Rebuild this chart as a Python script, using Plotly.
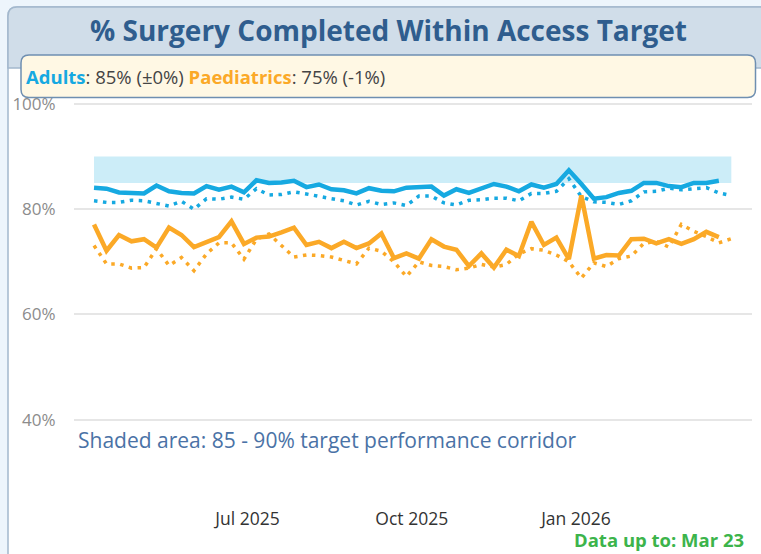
import plotly.graph_objects as go
import pandas as pd

W, H = 761, 554

# ---------------- data ----------------
week_dates = pd.date_range("2025-04-06", periods=52, freq="7D")

adults = [84.1, 83.9, 83.2, 83.0, 83.0, 84.5, 83.4, 83.1, 83.0, 84.4,
          83.7, 84.3, 83.2, 85.5, 85.0, 85.1, 85.4, 84.2, 84.7, 83.8,
          83.6, 83.0, 84.0, 83.5, 83.4, 84.1, 84.3, 84.3, 82.6, 83.8,
          83.1, 84.0, 84.8, 84.3, 83.4, 84.7, 84.1, 84.8, 87.4, 84.8,
          82.0, 82.3, 83.1, 83.5, 85.0, 85.0, 84.4, 84.2, 85.0, 85.0, 85.4]

paeds = [77.1, 72.1, 75.1, 73.9, 74.3, 72.7, 76.5, 75.1, 72.8, 73.8,
         74.7, 77.7, 73.4, 74.6, 74.8, 75.6, 76.5, 73.2, 73.8, 72.6,
         73.8, 72.6, 73.5, 75.4, 70.7, 71.6, 70.6, 74.3, 72.9, 72.3,
         69.2, 71.6, 68.9, 72.3, 71.1, 77.6, 73.2, 74.6, 70.5, 82.6,
         70.6, 71.3, 71.2, 74.3, 74.4, 73.5, 74.3, 73.4, 74.3, 75.7, 74.7]

adults_prev = [81.6, 81.3, 81.3, 81.7, 81.6, 81.1, 80.6, 81.5, 80.0, 82.0,
               81.9, 82.3, 81.9, 83.9, 82.7, 82.8, 83.3, 82.9, 82.4, 82.0,
               81.6, 80.8, 81.5, 80.9, 81.2, 80.7, 82.5, 82.5, 81.2, 80.8,
               81.7, 81.8, 82.1, 82.1, 81.6, 83.0, 83.0, 83.4, 85.8, 82.4,
               81.4, 81.3, 80.9, 81.6, 83.3, 83.4, 84.0, 83.7, 83.9, 84.1, 83.1, 82.6]

paeds_prev = [73.1, 69.6, 69.6, 68.8, 68.9, 72.5, 69.3, 70.8, 68.3, 71.5,
              73.6, 73.6, 70.5, 74.3, 75.3, 73.0, 70.9, 71.3, 71.2, 70.9,
              70.2, 69.6, 72.6, 72.0, 70.0, 67.2, 70.0, 69.3, 69.1, 68.5,
              68.8, 69.5, 69.0, 69.5, 71.5, 72.5, 72.2, 71.3, 70.0, 66.9,
              69.8, 69.1, 70.6, 71.1, 73.5, 73.9, 72.8, 77.1, 75.8, 74.8, 73.6, 74.4]

TARGET_LOW, TARGET_HIGH = 85, 90
y_tick_vals = [40, 60, 80, 100]
y_tick_text = ["40%", "60%", "80%", "100%"]
x_tick_vals = ["2025-07-01", "2025-10-01", "2026-01-01"]
x_tick_text = ["Jul 2025", "Oct 2025", "Jan 2026"]
title_text = "% Surgery Completed Within Access Target"
note_text = "Shaded area: 85 - 90% target performance corridor"
data_up_to = "Data up to: Mar 23"

BLUE = "#16a9e1"
ORANGE = "#fba927"

cur_dates = week_dates[:len(adults)]
prev_dates = week_dates[:len(adults_prev)]


def fmt_change(cur, prev):
    d = round(cur) - round(prev)
    if d == 0:
        return "±0%"
    return f"{d:+d}%"


def fx(p):
    return p / W


def fy(p):
    return 1 - p / H


def rounded_path(x0, y0, x1, y1, r, corners=(True, True, True, True)):
    tl, tr, br, bl = corners
    s = f"M {fx(x0 + (r if tl else 0))},{fy(y0)} "
    s += f"L {fx(x1 - (r if tr else 0))},{fy(y0)} "
    if tr:
        s += f"Q {fx(x1)},{fy(y0)} {fx(x1)},{fy(y0 + r)} "
    s += f"L {fx(x1)},{fy(y1 - (r if br else 0))} "
    if br:
        s += f"Q {fx(x1)},{fy(y1)} {fx(x1 - r)},{fy(y1)} "
    s += f"L {fx(x0 + (r if bl else 0))},{fy(y1)} "
    if bl:
        s += f"Q {fx(x0)},{fy(y1)} {fx(x0)},{fy(y1 - r)} "
    s += f"L {fx(x0)},{fy(y0 + (r if tl else 0))} "
    if tl:
        s += f"Q {fx(x0)},{fy(y0)} {fx(x0 + r)},{fy(y0)} "
    s += "Z"
    return s


fig = go.Figure()

# target performance corridor
fig.add_trace(go.Scatter(x=[prev_dates[0], prev_dates[-1]], y=[TARGET_LOW, TARGET_LOW],
                         mode="lines", line=dict(width=0), showlegend=False, hoverinfo="skip"))
fig.add_trace(go.Scatter(x=[prev_dates[0], prev_dates[-1]], y=[TARGET_HIGH, TARGET_HIGH],
                         mode="lines", line=dict(width=0), fill="tonexty",
                         fillcolor="#ccedf8", showlegend=False, hoverinfo="skip"))

# previous-year (dotted)
fig.add_trace(go.Scatter(x=prev_dates, y=adults_prev, mode="lines",
                         line=dict(color=BLUE, width=3.5, dash="3.5px,5.5px"),
                         showlegend=False))
fig.add_trace(go.Scatter(x=prev_dates, y=paeds_prev, mode="lines",
                         line=dict(color=ORANGE, width=3.5, dash="3.5px,5.5px"),
                         showlegend=False))
# current (solid)
fig.add_trace(go.Scatter(x=cur_dates, y=adults, mode="lines",
                         line=dict(color=BLUE, width=4.5), showlegend=False))
fig.add_trace(go.Scatter(x=cur_dates, y=paeds, mode="lines",
                         line=dict(color=ORANGE, width=4.5), showlegend=False))

shapes = [
    # card body
    dict(type="path", xref="paper", yref="paper", layer="below",
         path=rounded_path(8, 7, 775, 570, 9, (True, True, False, False)),
         fillcolor="#ffffff", line=dict(color="#a3b8cd", width=1.5)),
    # title band
    dict(type="path", xref="paper", yref="paper", layer="below",
         path=rounded_path(8, 7, 775, 68, 9, (True, True, False, False)),
         fillcolor="#d0dde9", line=dict(color="#a3b8cd", width=1.5)),
    # legend box
    dict(type="path", xref="paper", yref="paper", layer="above",
         path=rounded_path(21, 55, 755.5, 97.5, 8),
         fillcolor="#fff8e4", line=dict(color="#6f8fb1", width=1.5)),
]

legend_html = (f"<b><span style='color:{BLUE}'>Adults</span></b>: "
               f"{round(adults[-1])}% ({fmt_change(adults[-1], adults[-2])}) "
               f"<b><span style='color:{ORANGE}'>Paediatrics</span></b>: "
               f"{round(paeds[-1])}% ({fmt_change(paeds[-1], paeds[-2])})")

annotations = [
    dict(text=f"<b>{title_text}</b>", x=fx(389), y=fy(30), xref="paper", yref="paper",
         xanchor="center", yanchor="middle", showarrow=False,
         font=dict(family="Open Sans", size=28, color="#2f5d8e")),
    dict(text=legend_html, x=fx(24), y=fy(77), xref="paper", yref="paper",
         xanchor="left", yanchor="middle", showarrow=False,
         font=dict(family="Open Sans", size=18.5, color="#444444")),
    dict(text=note_text, x=fx(76), y=fy(440), xref="paper", yref="paper",
         xanchor="left", yanchor="middle", showarrow=False,
         font=dict(family="Open Sans", size=21, color="#4a72a6")),
    dict(text=f"<b>{data_up_to}</b>", x=fx(746), y=fy(539), xref="paper", yref="paper",
         xanchor="right", yanchor="middle", showarrow=False,
         font=dict(family="Open Sans", size=18.5, color="#3cb44b")),
]

fig.update_layout(
    width=W, height=H,
    margin=dict(l=0, r=0, t=0, b=0),
    paper_bgcolor="#edf5fc",
    plot_bgcolor="rgba(0,0,0,0)",
    shapes=shapes,
    annotations=annotations,
    showlegend=False,
    xaxis=dict(domain=[fx(74), fx(752)], type="date",
               range=["2025-03-25 19:00", "2026-04-09 14:00"],
               tickvals=x_tick_vals, ticktext=x_tick_text,
               showgrid=False, zeroline=False, showline=False, automargin=False,
               ticks="outside", ticklen=1, tickcolor="rgba(0,0,0,0)",
               tickfont=dict(family="Open Sans", size=17.5, color="#333333")),
    yaxis=dict(domain=[fy(502), fy(101.4)], range=[24.33, 100.5],
               tickvals=y_tick_vals, ticktext=y_tick_text,
               showgrid=True, gridcolor="#e6e6e6", gridwidth=1.5,
               zeroline=False, showline=False, automargin=False,
               ticks="outside", ticklen=14, tickcolor="rgba(0,0,0,0)",
               tickfont=dict(family="Liberation Sans Narrow, Open Sans", size=17,
                             color="#8c8c8c")),
)

fig.write_html("out.html", config={"displayModeBar": False},
               post_script="document.body.style.margin='0';document.body.style.overflow='hidden';")
